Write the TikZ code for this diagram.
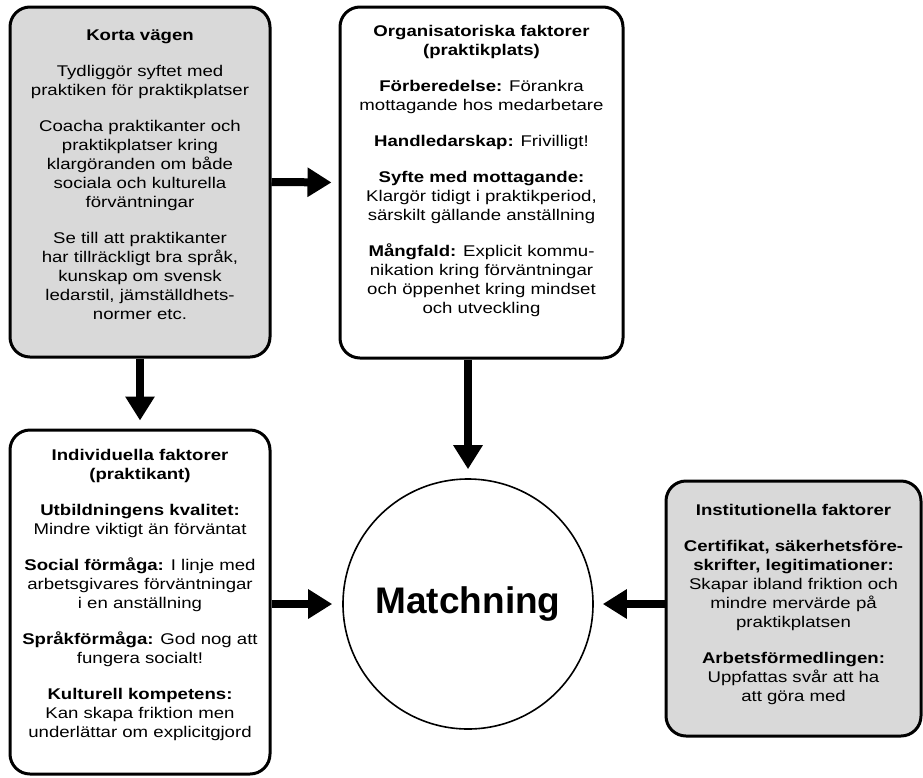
\documentclass[tikz,border=0pt]{standalone}
\usepackage{fontspec}
\setmainfont[FakeStretch=1.2]{Liberation Sans}
\newfontfamily\matchfont{Liberation Sans}
\usetikzlibrary{arrows.meta,calc}
\definecolor{boxgray}{RGB}{217,217,217}
\begin{document}
\begin{tikzpicture}[x=1pt,y=-1pt,
  box/.style={draw=black, line width=3pt, rounded corners=20pt, inner sep=0pt},
  txt/.style={anchor=north, align=center, font=\fontsize{15.5}{19}\selectfont, inner sep=0pt},
  flow/.style={line width=8pt, -{Triangle[length=24pt,width=28pt]}},
]
\useasboundingbox (0,0) rectangle (923,777);

% boxes
\node[box, fill=boxgray, minimum width=260pt, minimum height=350pt] (k) at (140,182) {};
\node[box, fill=white, minimum width=283pt, minimum height=351pt] (o) at (481.5,182.5) {};
\node[box, fill=white, minimum width=260pt, minimum height=344pt] (i) at (140,602) {};
\node[box, fill=boxgray, minimum width=255pt, minimum height=255pt] (n) at (793.5,608.5) {};
\node[draw=black, circle, line width=1.6pt, minimum size=250pt, inner sep=0pt,
      font=\matchfont\bfseries\fontsize{37}{40}\selectfont] (m) at (468,604) {Matchning};

% texts
\node[txt] (kt) at ($(k.north)+(0,24)$) {\textbf{Korta vägen}\\[17pt]
Tydliggör syftet med\\
praktiken för praktikplatser\\[17pt]
Coacha praktikanter och\\
praktikplatser kring\\
klargöranden om både\\
sociala och kulturella\\
förväntningar\\[17pt]
Se till att praktikanter\\
har tillräckligt bra språk,\\
kunskap om svensk\\
ledarstil, jämställdhets-\\
normer etc.};

\node[txt] (ot) at ($(o.north)+(0,20)$) {\textbf{Organisatoriska faktorer}\\
\textbf{(praktikplats)}\\[17pt]
\textbf{Förberedelse:} Förankra\\
mottagande hos medarbetare\\[17pt]
\textbf{Handledarskap:} Frivilligt!\\[17pt]
\textbf{Syfte med mottagande:}\\
Klargör tidigt i praktikperiod,\\
särskilt gällande anställning\\[17pt]
\textbf{Mångfald:} Explicit kommu-\\
nikation kring förväntningar\\
och öppenhet kring mindset\\
och utveckling};

\node[txt] (it) at ($(i.north)+(0,21)$) {\textbf{Individuella faktorer}\\
\textbf{(praktikant)}\\[17pt]
\textbf{Utbildningens kvalitet:}\\
Mindre viktigt än förväntat\\[17pt]
\textbf{Social förmåga:} I linje med\\
arbetsgivares förväntningar\\
i en anställning\\[17pt]
\textbf{Språkförmåga:} God nog att\\
fungera socialt!\\[17pt]
\textbf{Kulturell kompetens:}\\
Kan skapa friktion men\\
underlättar om explicitgjord};

\node[txt] (nt) at ($(n.north)+(0,25)$) {\textbf{Institutionella faktorer}\\[17pt]
\textbf{Certifikat, säkerhetsföre-}\\
\textbf{skrifter, legitimationer:}\\
Skapar ibland friktion och\\
mindre mervärde på\\
praktikplatsen\\[17pt]
\textbf{Arbetsförmedlingen:}\\
Uppfattas svår att ha\\
att göra med};

% arrows
\draw[flow, shorten >=7pt] (k.east) -- (o.west);
\draw[flow, shorten >=8pt] (k.south) -- (i.north);
\draw[flow, shorten >=9pt] (o.south -| m.north) -- (m.north);
\draw[flow, shorten >=10pt] (i.east |- m.west) -- (m.west);
\draw[flow, shorten >=9pt] (n.west |- m.east) -- (m.east);
\end{tikzpicture}
\end{document}
